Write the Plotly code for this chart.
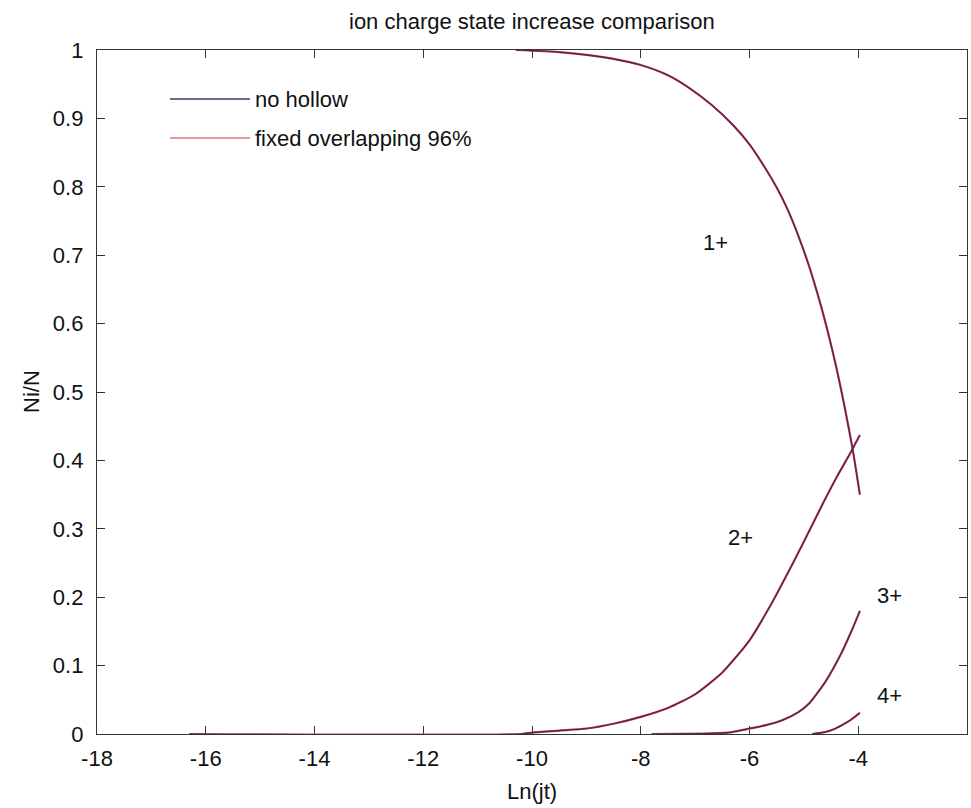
import plotly.graph_objects as go

# Ion fraction Ni/N versus Ln(jt) for each charge state
state1_x = [-10.3, -9.5, -9.0, -8.5, -8.0, -7.5, -7.1, -6.7, -6.3, -6.0, -5.7, -5.5, -5.3, -5.1, -4.9, -4.7, -4.55, -4.4, -4.25, -4.1, -3.97]
state1_y = [1.0, 0.997, 0.993, 0.987, 0.978, 0.963, 0.944, 0.92, 0.89, 0.862, 0.826, 0.799, 0.767, 0.728, 0.683, 0.63, 0.585, 0.535, 0.478, 0.415, 0.35]

state2_x = [-16.3, -10.2, -10.0, -9.5, -9.0, -8.5, -8.0, -7.5, -7.0, -6.5, -6.0, -5.6, -5.2, -4.9, -4.65, -4.4, -4.15, -3.97]
state2_y = [0.0, 0.0, 0.002, 0.005, 0.008, 0.015, 0.025, 0.038, 0.058, 0.09, 0.137, 0.19, 0.25, 0.297, 0.337, 0.375, 0.41, 0.437]

state3_x = [-7.8, -6.4, -6.0, -5.7, -5.4, -5.1, -4.9, -4.6, -4.3, -4.1, -3.97]
state3_y = [0.0, 0.002, 0.008, 0.013, 0.02, 0.032, 0.045, 0.077, 0.12, 0.155, 0.18]

state4_x = [-4.85, -4.6, -4.45, -4.3, -4.15, -3.97]
state4_y = [0.0, 0.003, 0.007, 0.013, 0.02, 0.031]

series_names = ["no hollow", "fixed overlapping 96%"]
state_labels = ["1+", "2+", "3+", "4+"]
label_x = [-6.62, -6.17, -3.42, -3.42]
label_y = [0.718, 0.288, 0.203, 0.057]

x_ticks = [-18, -16, -14, -12, -10, -8, -6, -4, -2]
x_ticktext = ["-18", "-16", "-14", "-12", "-10", "-8", "-6", "-4", "-2"]
y_ticks = [0, 0.1, 0.2, 0.3, 0.4, 0.5, 0.6, 0.7, 0.8, 0.9, 1]
y_ticktext = ["0", "0.1", "0.2", "0.3", "0.4", "0.5", "0.6", "0.7", "0.8", "0.9", "1"]

states = [(state1_x, state1_y), (state2_x, state2_y), (state3_x, state3_y), (state4_x, state4_y)]

FONT = "Liberation Sans, Arial, sans-serif"
FS = 22
RED = "#cc3a4a"
NAVY = "rgba(45,30,100,0.8)"

# plot area in pixels
W, H = 971, 808
L, R, T, B = 97, 4, 50, 74
PW, PH = W - L - R, H - T - B


def px(xp):
    return (xp - L) / PW


def py(yp):
    return (H - B - yp) / PH


fig = go.Figure()

# red series first, navy drawn over it
for name, color, width in [(series_names[1], RED, 2.2), (series_names[0], NAVY, 1.2)]:
    for sx, sy in states:
        fig.add_trace(go.Scatter(
            x=sx, y=sy, mode="lines", name=name, showlegend=False,
            line=dict(color=color, width=width, shape="spline", smoothing=0.6),
        ))

for txt, lx, ly in zip(state_labels, label_x, label_y):
    fig.add_annotation(x=lx, y=ly, text=txt, showarrow=False,
                       font=dict(family=FONT, size=FS, color="#111"),
                       xanchor="center", yanchor="middle")

# legend drawn in the upper-left corner of the axes
legend_rows = [(99, "#3a3a70", series_names[0]), (138, "#e07878", series_names[1])]
for yp, col, name in legend_rows:
    fig.add_shape(type="line", xref="paper", yref="paper",
                  x0=px(170), x1=px(250), y0=py(yp), y1=py(yp),
                  line=dict(color=col, width=1.5))
    fig.add_annotation(xref="paper", yref="paper", x=px(253), y=py(yp),
                       text=name, showarrow=False, xanchor="left", yanchor="middle",
                       font=dict(family=FONT, size=FS, color="#111"))

# title and axis labels
fig.add_annotation(xref="paper", yref="paper", x=0.5, y=py(22), text="ion charge state increase comparison",
                   showarrow=False, xanchor="center", yanchor="middle",
                   font=dict(family=FONT, size=FS, color="#111"))
fig.add_annotation(xref="paper", yref="paper", x=0.5, y=py(791), text="Ln(jt)",
                   showarrow=False, xanchor="center", yanchor="middle",
                   font=dict(family=FONT, size=FS, color="#111"))
fig.add_annotation(xref="paper", yref="paper", x=px(31), y=0.5, text="Ni/N", textangle=-90,
                   showarrow=False, xanchor="center", yanchor="middle",
                   font=dict(family=FONT, size=FS, color="#111"))

axis_common = dict(showline=True, linecolor="#333", linewidth=1.3, mirror="ticks",
                   ticks="inside", ticklen=8, tickwidth=1.3, tickcolor="#333",
                   showgrid=False, zeroline=False, layer="below traces",
                   tickfont=dict(family=FONT, size=FS, color="#111"))

fig.update_layout(
    width=W, height=H,
    margin=dict(l=L, r=R, t=T, b=B),
    paper_bgcolor="white", plot_bgcolor="white",
    xaxis=dict(range=[-18, -2], tickvals=x_ticks, ticktext=x_ticktext,
               ticklabelstandoff=4, **axis_common),
    yaxis=dict(range=[0, 1], tickvals=y_ticks, ticktext=y_ticktext,
               ticklabelstandoff=8, **axis_common),
)

fig.write_html("out.html")
